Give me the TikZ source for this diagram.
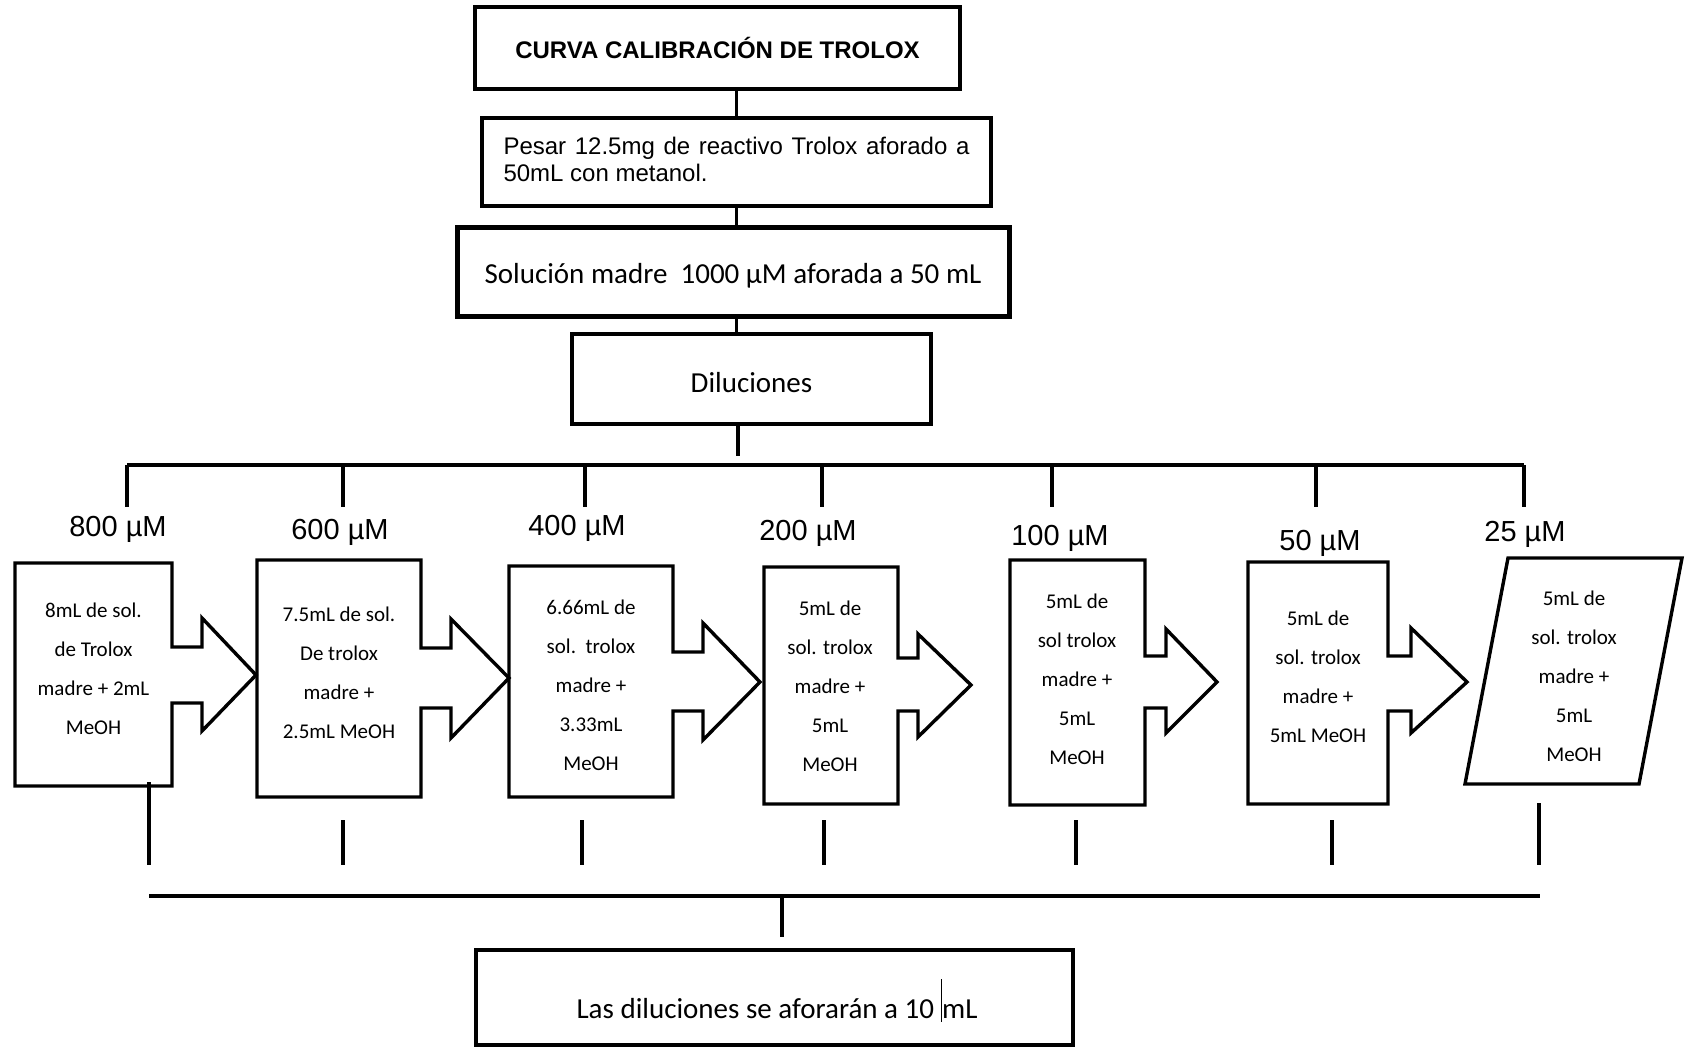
\documentclass[tikz,border=0pt]{standalone}
\usepackage{fontspec}
\setmainfont{Carlito}
\newfontfamily\arialfont{Liberation Sans}
\begin{document}
\begin{tikzpicture}[x=1pt,y=-1pt,
  boxline/.style={line width=3.4pt,line join=miter},
  conn/.style={line width=3.2pt},
  stepbox/.style={draw,boxline,inner sep=0pt},
  dtext/.style={align=center,inner sep=0pt,font=\fontsize{21}{39}\selectfont},
  conc/.style={inner sep=0pt,font=\arialfont\fontsize{29}{34}\selectfont}]
\useasboundingbox[fill=white] (0,0) rectangle (1689,1047);

% ---- upper chain of steps ----
\node[stepbox,minimum width=485pt,minimum height=82pt] (title) at (717.5,48)
  {\arialfont\bfseries\fontsize{24}{28}\selectfont CURVA CALIBRACIÓN DE TROLOX};
\node[stepbox,minimum width=509pt,minimum height=88pt] (weigh) at (736.5,162) {};
\node[inner sep=0pt] (weightext) at (736.5,159)
  {\parbox{466pt}{\arialfont\fontsize{24}{27}\selectfont\parindent=0pt
   Pesar 12.5mg de reactivo Trolox aforado a 50mL con metanol.}};
\node[stepbox,line width=5pt,minimum width=552pt,minimum height=89pt] (stock) at (733,271.5) {};
\node[inner sep=0pt,font=\fontsize{29}{34}\selectfont] (stocktext) at (733,275.5)
  {Solución madre\ \ 1000 µM aforada a 50 mL};
\node[stepbox,line width=4pt,minimum width=359pt,minimum height=90pt] (dil) at (751.5,379) {};
\node[inner sep=0pt,font=\fontsize{29}{34}\selectfont] (diltext) at (751.5,382.5) {Diluciones};

\draw[conn] (weigh.north) -- (weigh.north |- title.south);
\draw[conn] (weigh.south) -- (weigh.south |- stock.north);
\draw[conn] (weigh.south |- stock.south) -- (weigh.south |- dil.north);
\coordinate (dilend) at (738,456);
\draw[conn] (dilend |- dil.south) -- (dilend);

% ---- distribution bar ----
\coordinate (busL) at (127,465);
\coordinate (busR) at (1524,465);
\draw[conn] (busL) -- (busR);
\foreach \x [count=\i] in {127,343,585,822,1052,1316,1524}{
  \coordinate (drop\i) at (\x,507);
  \draw[conn] (drop\i |- busL) -- (drop\i);
}

% ---- concentration labels ----
\node[conc] (c1) at (118,529) {800 µM};
\node[conc] (c2) at (340,532) {600 µM};
\node[conc] (c3) at (577,528) {400 µM};
\node[conc] (c4) at (808,533) {200 µM};
\node[conc] (c5) at (1060,538) {100 µM};
\node[conc] (c6) at (1320,543) {50 µM};
\node[conc] (c7) at (1525,534) {25 µM};

% ---- dilution boxes with block arrows ----
\draw[boxline] (15,563) -- (172,563) -- (172,647) -- (202,647) -- (202,618) -- (256,675)
  -- (202,731) -- (202,703) -- (172,703) -- (172,786) -- (15,786) -- cycle;
\draw[boxline] (257,560) -- (421,560) -- (421,648) -- (451,648) -- (451,619) -- (509,678)
  -- (451,738) -- (451,708) -- (421,708) -- (421,797) -- (257,797) -- cycle;
\draw[boxline] (509,566) -- (673,566) -- (673,652) -- (703,652) -- (703,623) -- (760,682)
  -- (703,740) -- (703,711) -- (673,711) -- (673,797) -- (509,797) -- cycle;
\draw[boxline] (764,567) -- (898,567) -- (898,658) -- (918,658) -- (918,634) -- (971,685)
  -- (918,737) -- (918,711) -- (898,711) -- (898,804) -- (764,804) -- cycle;
\draw[boxline] (1010,560) -- (1145,560) -- (1145,656) -- (1166,656) -- (1166,629) -- (1217,682)
  -- (1166,733) -- (1166,708) -- (1145,708) -- (1145,805) -- (1010,805) -- cycle;
\draw[boxline] (1248,562) -- (1388,562) -- (1388,656) -- (1411,656) -- (1411,628) -- (1467,682)
  -- (1411,733) -- (1411,711) -- (1388,711) -- (1388,804) -- (1248,804) -- cycle;
\draw[boxline] (1508,558) -- (1682,558) -- (1639,784) -- (1465,784) -- cycle;

\node[dtext] (t1) at (93.5,669) {8mL de sol.\\de Trolox\\madre + 2mL\\MeOH};
\node[dtext] (t2) at (339,673) {7.5mL de sol.\\De trolox\\madre +\\2.5mL MeOH};
\node[dtext] (t3) at (591,685) {6.66mL de\\sol.\ \ trolox\\madre +\\3.33mL\\MeOH};
\node[dtext] (t4) at (830,686) {5mL de\\sol. trolox\\madre +\\5mL\\MeOH};
\node[dtext] (t5) at (1077,679) {5mL de\\sol trolox\\madre +\\5mL\\MeOH};
\node[dtext] (t6) at (1318,677) {5mL de\\sol. trolox\\madre +\\5mL MeOH};
\node[dtext] (t7) at (1574,676) {5mL de\\sol. trolox\\madre +\\5mL\\MeOH};

% ---- collecting bar ----
\foreach \x/\top [count=\i] in {149/782,343/820,582/820,824/820,1076/820,1332/820,1539/803}{
  \coordinate (up\i) at (\x,\top);
  \draw[conn] (up\i) -- (\x,865);
}
\coordinate (lowL) at (149,896);
\coordinate (lowR) at (1540,896);
\draw[conn] (lowL) -- (lowR);

\node[stepbox,minimum width=597pt,minimum height=95pt] (final) at (774.5,997.5) {};
\node[inner sep=0pt,font=\fontsize{29}{34}\selectfont] (finaltext) at (777,1000)
  {Las diluciones se aforarán a 10 \rule[-3pt]{1.4pt}{43pt}mL};
\coordinate (lowtap) at (782,896);
\coordinate (lowdrop) at (782,937);
\draw[conn] (lowtap) -- (lowdrop);
\end{tikzpicture}
\end{document}
